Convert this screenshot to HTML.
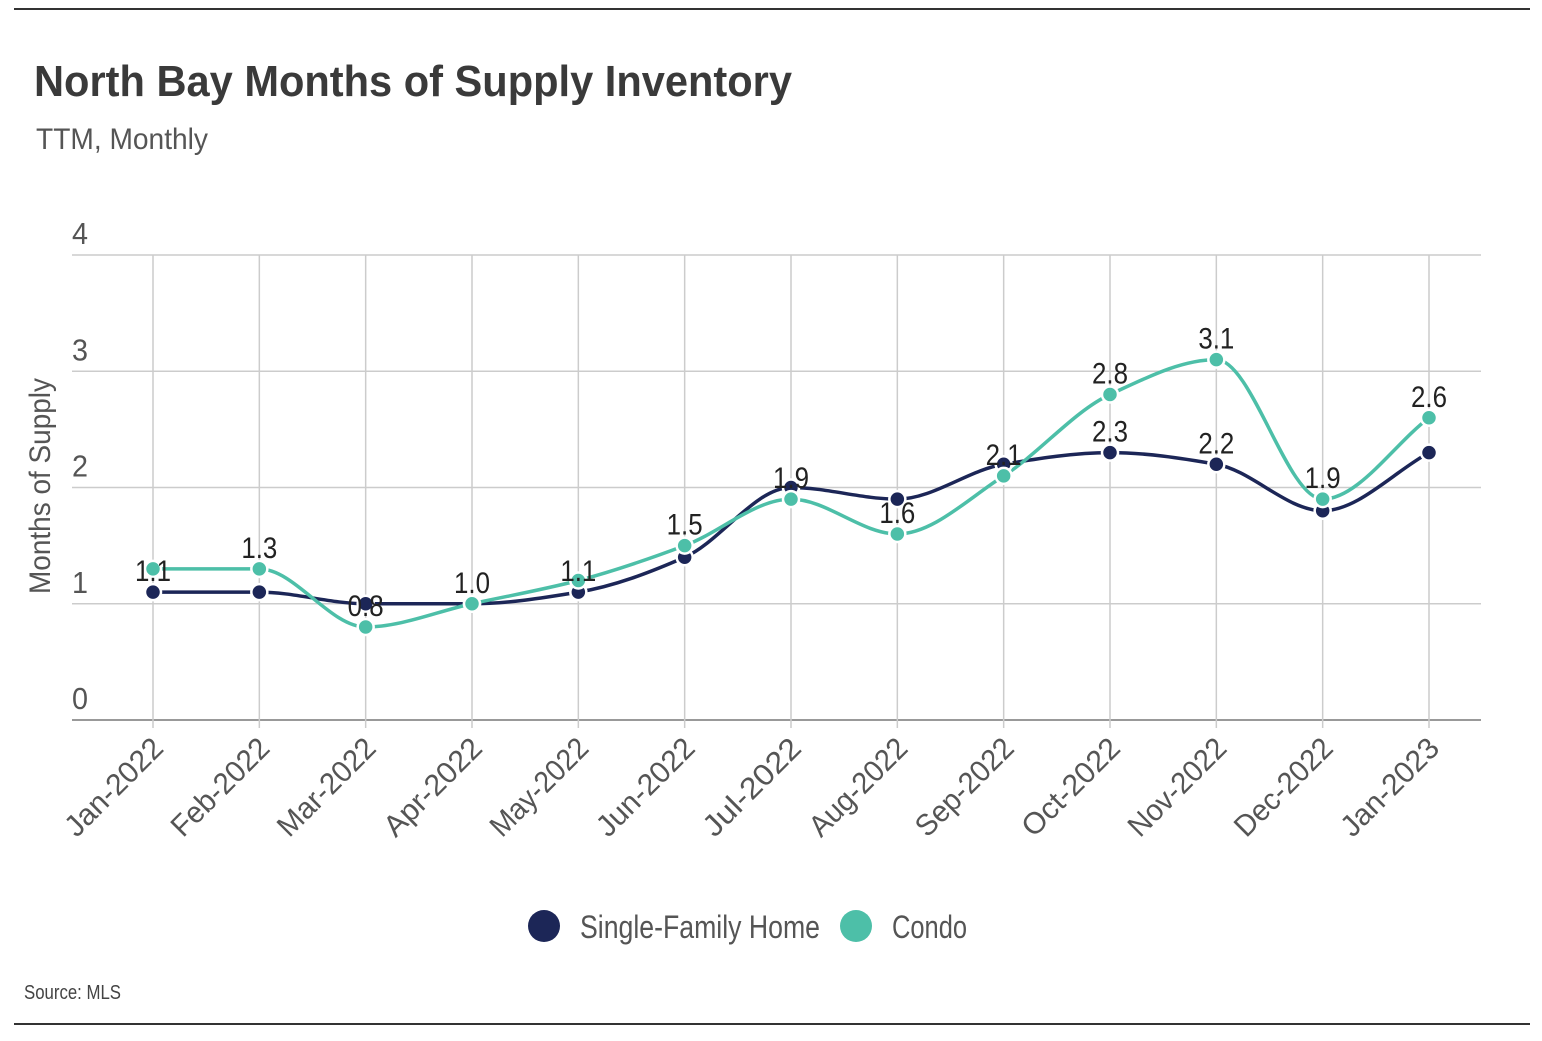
<!DOCTYPE html>
<html><head><meta charset="utf-8"><style>
body{margin:0;background:#fff;width:1542px;height:1036px;overflow:hidden;font-family:"Liberation Sans",sans-serif;}
svg text{font-family:"Liberation Sans",sans-serif;}
</style></head><body>
<svg id="chart" width="1542" height="1036" xmlns="http://www.w3.org/2000/svg">
<line x1="14" y1="9" x2="1530" y2="9" stroke="#333" stroke-width="2"/>
<line x1="14" y1="1024" x2="1530" y2="1024" stroke="#333" stroke-width="2"/>
<text x="34" y="96" font-size="44" font-weight="bold" fill="#3a3a3a" textLength="758" lengthAdjust="spacingAndGlyphs">North Bay Months of Supply Inventory</text>
<text x="36" y="149" font-size="30" fill="#555" textLength="172" lengthAdjust="spacingAndGlyphs">TTM, Monthly</text>
<text transform="translate(50,486) rotate(-90)" text-anchor="middle" font-size="30" fill="#555" textLength="216" lengthAdjust="spacingAndGlyphs">Months of Supply</text>
<g id="grid"></g><g id="lines"></g><g id="pts"></g><g id="labels"></g>
<g>
<circle cx="544" cy="926" r="16" fill="#1c2657"/>
<text x="580" y="938" font-size="32" fill="#555" textLength="240" lengthAdjust="spacingAndGlyphs">Single-Family Home</text>
<circle cx="856" cy="926" r="16" fill="#4dbfa8"/>
<text x="892" y="938" font-size="32" fill="#555" textLength="75" lengthAdjust="spacingAndGlyphs">Condo</text>
</g>
<text x="24" y="999" font-size="20" fill="#444" textLength="97" lengthAdjust="spacingAndGlyphs">Source:  MLS</text>
</svg>
<script>
const categories=["Jan-2022","Feb-2022","Mar-2022","Apr-2022","May-2022","Jun-2022","Jul-2022","Aug-2022","Sep-2022","Oct-2022","Nov-2022","Dec-2022","Jan-2023"];
const sfhValues=[1.1,1.1,1.0,1.0,1.1,1.4,2.0,1.9,2.2,2.3,2.2,1.8,2.3];
const condoValues=[1.3,1.3,0.8,1.0,1.2,1.5,1.9,1.6,2.1,2.8,3.1,1.9,2.6];
const yTicks=[0,1,2,3,4];
const labelMonths=[0,1,2,3,4,5,6,7,8,9,9,10,10,11,12];
const labelValues=[1.1,1.3,0.8,1.0,1.1,1.5,1.9,1.6,2.1,2.8,2.3,3.1,2.2,1.9,2.6];
const NS="http://www.w3.org/2000/svg";
const x=i=>153+i*(1429-153)/(categories.length-1);
const y=v=>720-v*(720-255)/4;
function mk(t,a,p){const e=document.createElementNS(NS,t);for(const k in a)e.setAttribute(k,a[k]);p.appendChild(e);return e;}
const grid=document.getElementById('grid');
yTicks.forEach(t=>{
 const l=mk('line',{x1:72,x2:1481,y1:y(t),y2:y(t),stroke:t===0?'#999':'#ccc','stroke-width':t===0?2:1.5},grid);
 
 
 const tx=mk('text',{x:72,y:y(t)-11,'font-size':31,fill:'#555',textLength:16,lengthAdjust:'spacingAndGlyphs'},grid);tx.textContent=t;
 
 
});
categories.forEach((c,i)=>{
 const l=mk('line',{x1:x(i),x2:x(i),y1:y(4),y2:y(0)+8,stroke:'#ccc','stroke-width':1.5},grid);
 
 
 const tx=mk('text',{transform:`translate(${x(i)+12},${y(0)+30}) rotate(-45)`,'text-anchor':'end','font-size':30,fill:'#555',textLength:125,lengthAdjust:'spacingAndGlyphs'},grid);tx.textContent=c;
 
 
});
function monoPath(vals){
 const n=vals.length,xs=vals.map((_,i)=>x(i)),ys=vals.map(y);
 const d=[],m=[];for(let i=0;i<n-1;i++)d.push((ys[i+1]-ys[i])/(xs[i+1]-xs[i]));
 m[0]=d[0];m[n-1]=d[n-2];
 for(let i=1;i<n-1;i++){m[i]=(d[i-1]*d[i]<=0)?0:2*d[i-1]*d[i]/(d[i-1]+d[i]);}
 let p=`M${xs[0]},${ys[0]}`;
 for(let i=0;i<n-1;i++){const h=(xs[i+1]-xs[i])/3;p+=`C${xs[i]+h},${ys[i]+m[i]*h} ${xs[i+1]-h},${ys[i+1]-m[i+1]*h} ${xs[i+1]},${ys[i+1]}`;}
 return p;
}
const lines=document.getElementById('lines'),pts=document.getElementById('pts');
[[sfhValues,'#1c2657','sfh'],[condoValues,'#4dbfa8','condo']].forEach(([vals,col,nm])=>{
 const p=mk('path',{d:monoPath(vals),fill:'none',stroke:col,'stroke-width':3.5},lines);
 
 
});
[[sfhValues,'#1c2657','sfh'],[condoValues,'#4dbfa8','condo']].forEach(([vals,col,nm])=>{
 vals.forEach((v,i)=>{
  const c=mk('circle',{cx:x(i),cy:y(v),r:8,fill:col,stroke:'#fff','stroke-width':2.5},pts);
  
  
 });
});
const lg=document.getElementById('labels');
labelValues.forEach((v,k)=>{
 const t=mk('text',{x:x(labelMonths[k]),y:y(v)-11,'text-anchor':'middle','font-size':30,fill:'#222',textLength:36,lengthAdjust:'spacingAndGlyphs'},lg);
 t.textContent=v.toFixed(1);
 
 
});
</script>
</body></html>
